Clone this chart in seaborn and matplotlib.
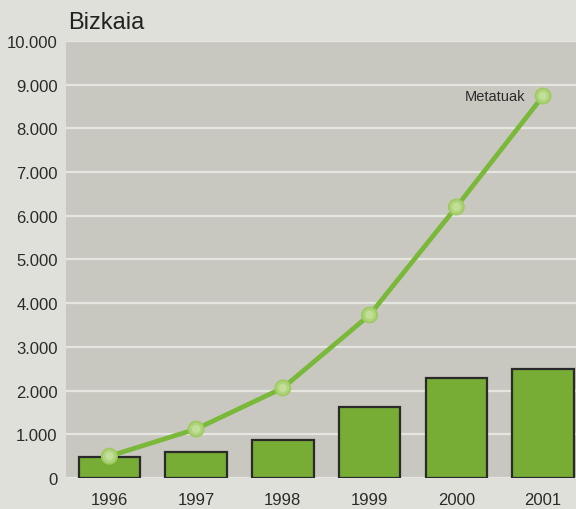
import matplotlib
matplotlib.use("Agg")
import matplotlib.pyplot as plt
from matplotlib.ticker import FuncFormatter
import seaborn as sns
import pandas as pd

# data
years = ["1996", "1997", "1998", "1999", "2000", "2001"]
urteko = [470, 590, 870, 1630, 2295, 2495]
metatuak = [500, 1120, 2060, 3730, 6200, 8740]
yticks = [0, 1000, 2000, 3000, 4000, 5000, 6000, 7000, 8000, 9000, 10000]

sns.set_style("white")
plt.rcParams["font.family"] = ["Liberation Sans Narrow", "Liberation Sans", "DejaVu Sans"]

df = pd.DataFrame({"urtea": years, "urteko": urteko, "metatuak": metatuak})

fig = plt.figure(figsize=(5.76, 5.10), dpi=100, facecolor="#dfe0da")
ax = fig.add_axes([0.1146, 0.0608, 0.8854, 0.857])
ax.set_facecolor("#c8c8c0")

sns.barplot(data=df, x="urtea", y="urteko", order=years, color="#77ad35",
            saturation=1, width=0.71, edgecolor="#2a2a2a", linewidth=1.6, ax=ax, zorder=2)
sns.lineplot(data=df, x="urtea", y="metatuak", color="#7ab83a", linewidth=3.4,
             ax=ax, zorder=3)
# markers: light green balls, layered to fake the soft shading
sns.scatterplot(data=df, x="urtea", y="metatuak", s=150, color="#9fca62",
                edgecolor="none", ax=ax, zorder=4)
sns.scatterplot(data=df, x="urtea", y="metatuak", s=90, color="#b0d47e",
                edgecolor="none", ax=ax, zorder=5)
sns.scatterplot(data=df, x="urtea", y="metatuak", s=35, color="#c2df98",
                edgecolor="none", ax=ax, zorder=6)

ax.set_xlim(-0.5, 5.38)
ax.set_ylim(0, 10000)
ax.set_yticks(yticks)
ax.yaxis.set_major_formatter(FuncFormatter(lambda v, p: f"{int(v):,}".replace(",", ".")))
ax.grid(axis="y", color="#e6e6e0", linewidth=1.6, zorder=1)
ax.set_axisbelow(True)
for s in ax.spines.values():
    s.set_visible(False)
ax.tick_params(axis="both", length=0, labelsize=12, labelcolor="#2b2b2b")
ax.tick_params(axis="x", pad=10)
ax.tick_params(axis="y", pad=6)
ax.set_xlabel("")
ax.set_ylabel("")

ax.text(4.8, metatuak[-1], "Metatuak", ha="right", va="center", fontsize=10.5, color="#2b2b2b")
fig.text(68 / 576, 1 - 23 / 510, "Bizkaia", ha="left", va="center", fontsize=17, color="#222222")

fig.savefig("out.png", dpi=100, facecolor=fig.get_facecolor())
